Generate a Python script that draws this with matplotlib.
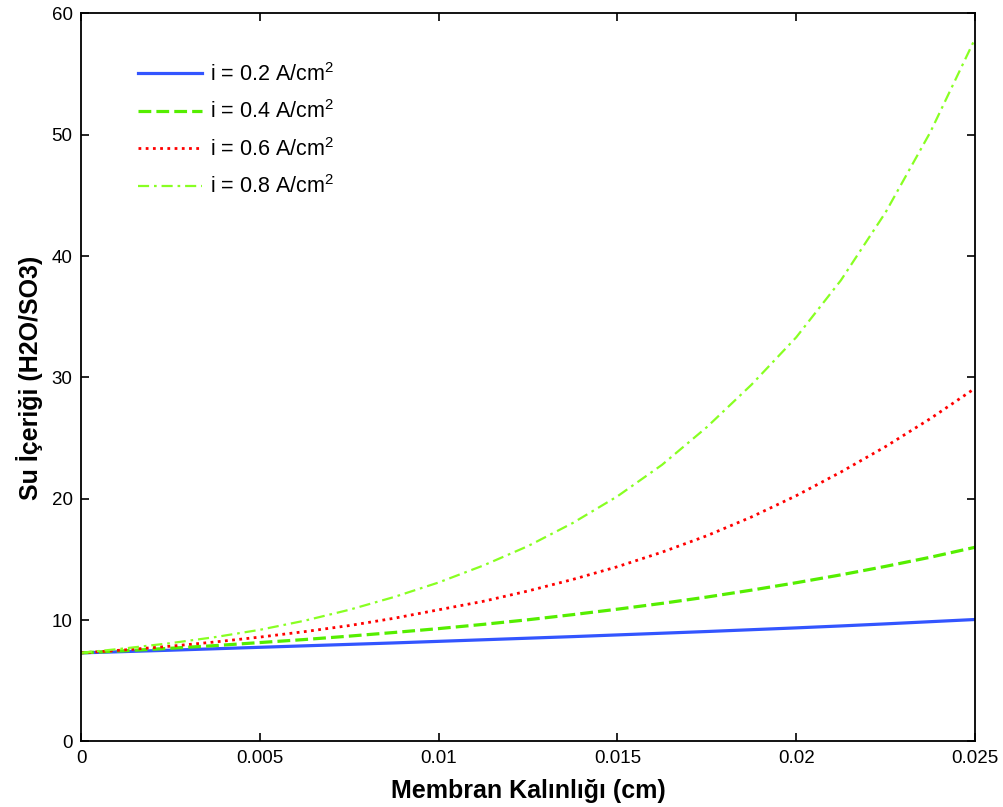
import numpy as np
import matplotlib
matplotlib.use("Agg")
import matplotlib.pyplot as plt

# Membrane thickness (cm)
thickness = [0.0, 0.00125, 0.0025, 0.00375, 0.005, 0.00625, 0.0075, 0.00875,
             0.01, 0.01125, 0.0125, 0.01375, 0.015, 0.01625, 0.0175, 0.01875,
             0.02, 0.02125, 0.0225, 0.02375, 0.025]

# Water content (H2O/SO3) for each current density
water_i02 = [7.3, 7.41, 7.52, 7.64, 7.76, 7.88, 8.0, 8.12, 8.25, 8.38, 8.51,
             8.64, 8.78, 8.92, 9.06, 9.21, 9.36, 9.52, 9.69, 9.87, 10.05]
water_i04 = [7.3, 7.48, 7.68, 7.9, 8.15, 8.4, 8.68, 8.98, 9.3, 9.65, 10.03,
             10.45, 10.9, 11.38, 11.9, 12.47, 13.08, 13.73, 14.43, 15.18, 16.0]
water_i06 = [7.3, 7.55, 7.85, 8.2, 8.6, 9.05, 9.55, 10.15, 10.85, 11.55, 12.4,
             13.35, 14.4, 15.6, 16.95, 18.5, 20.25, 22.2, 24.3, 26.6, 29.1]
water_i08 = [7.3, 7.68, 8.1, 8.6, 9.2, 9.95, 10.85, 11.9, 13.1, 14.5, 16.1,
             18.0, 20.2, 22.8, 25.9, 29.4, 33.3, 38.0, 43.6, 50.2, 57.9]

series_labels = ["i = 0.2 A/cm$^2$", "i = 0.4 A/cm$^2$",
                 "i = 0.6 A/cm$^2$", "i = 0.8 A/cm$^2$"]

x_ticks = [0, 0.005, 0.01, 0.015, 0.02, 0.025]
x_tick_labels = ["0", "0.005", "0.01", "0.015", "0.02", "0.025"]
y_ticks = [0, 10, 20, 30, 40, 50, 60]

plt.rcParams["font.family"] = ["Liberation Sans", "DejaVu Sans"]
plt.rcParams["mathtext.fontset"] = "custom"
plt.rcParams["mathtext.rm"] = "Liberation Sans"

fig = plt.figure(figsize=(10.04, 8.07), dpi=100)
ax = fig.add_axes([0.0807, 0.0812, 0.8904, 0.9023])

ax.plot(thickness, water_i02, color="#3355ff", lw=2.3, linestyle="-",
        label=series_labels[0])
ax.plot(thickness, water_i04, color="#55ee00", lw=2.3,
        linestyle=(0, (4, 1.6)), label=series_labels[1])
ax.plot(thickness, water_i06, color="#ff0000", lw=2.0,
        linestyle=(0, (1, 1.6)), label=series_labels[2])
ax.plot(thickness, water_i08, color="#88ff22", lw=1.6,
        linestyle=(0, (5, 2.2, 1.2, 2.2)), label=series_labels[3])

ax.set_xlim(0, 0.025)
ax.set_ylim(0, 60)
ax.set_xticks(x_ticks)
ax.set_xticklabels(x_tick_labels)
ax.set_yticks(y_ticks)
ax.tick_params(direction="in", length=6, width=1.2, top=True, right=True,
               labelsize=13.5, pad=6)
for spine in ax.spines.values():
    spine.set_linewidth(1.3)

ax.set_xlabel("Membran Kalınlığı (cm)", fontsize=18, fontweight="bold",
              labelpad=9)
ax.set_ylabel("Su İçeriği (H2O/SO3)", fontsize=18, fontweight="bold",
              labelpad=6)

leg = ax.legend(loc="upper left", bbox_to_anchor=(0.054, 0.944), frameon=False,
                fontsize=15.5, handlelength=3.0, handletextpad=0.33,
                labelspacing=0.68, borderaxespad=0)

fig.savefig("out.png", dpi=100)
